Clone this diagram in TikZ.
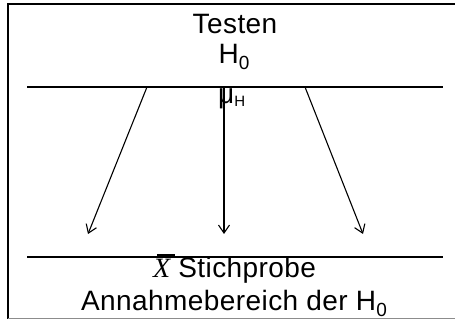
\documentclass[tikz,border=0pt]{standalone}
\usepackage{fontspec}
\setmainfont{Liberation Sans}[LetterSpace=1.5]
\newfontfamily\serifit{Liberation Serif}
\usetikzlibrary{arrows.meta}
\tikzset{
  lbl/.style={inner sep=0pt, anchor=base, font=\fontsize{28}{34}\selectfont},
  hline/.style={line width=1.3pt},
  arr/.style={line width=1.1pt, -{Straight Barb[length=8pt,width=11pt,line width=1.1pt]}},
  frame/.style={line width=2pt}
}
\newcommand{\subsc}[1]{\raisebox{-6pt}{\fontsize{19}{19}\selectfont #1}}
\begin{document}
\begin{tikzpicture}[x=1pt,y=-1pt]
\useasboundingbox (0,0) rectangle (455,320);
% frame
\draw[frame] (455,4.5) -- (7.5,4.5) -- (7.5,318.5);
\draw[line width=1pt, black!45] (7.5,318.5) -- (455,318.5);
% horizontal lines
\coordinate (tl) at (27,87); \coordinate (tr) at (443,87);
\coordinate (bl) at (27,257); \coordinate (br) at (443,257);
\draw[hline] (tl) -- (tr);
\draw[hline] (bl) -- (br);
% texts
\node[lbl] (testen) at (235,34) {Testen};
\node[lbl] (h0) at (234,63.5) {H\subsc{0}};
\node[lbl, anchor=base west] (mu) at (218,103.5) {μ\raisebox{-3pt}{\fontsize{15}{15}\selectfont H}};
\node[lbl] (stich) at (234.5,278) {\rlap{\hspace{4pt}\rule[19.5pt]{18pt}{4pt}}{\serifit\itshape X} Stichprobe};
\node[lbl] (annahme) at (234,310) {Annahmebereich der H\subsc{0}};
% arrows
\coordinate (s1) at (147,87); \coordinate (e1) at (88,234);
\coordinate (s2) at (224,87); \coordinate (e2) at (224,234);
\coordinate (s3) at (305,87); \coordinate (e3) at (363,234);
\draw[arr] (s1) -- (e1);
\draw[arr] (s2) -- (e2);
\draw[arr] (s3) -- (e3);
\end{tikzpicture}
\end{document}
